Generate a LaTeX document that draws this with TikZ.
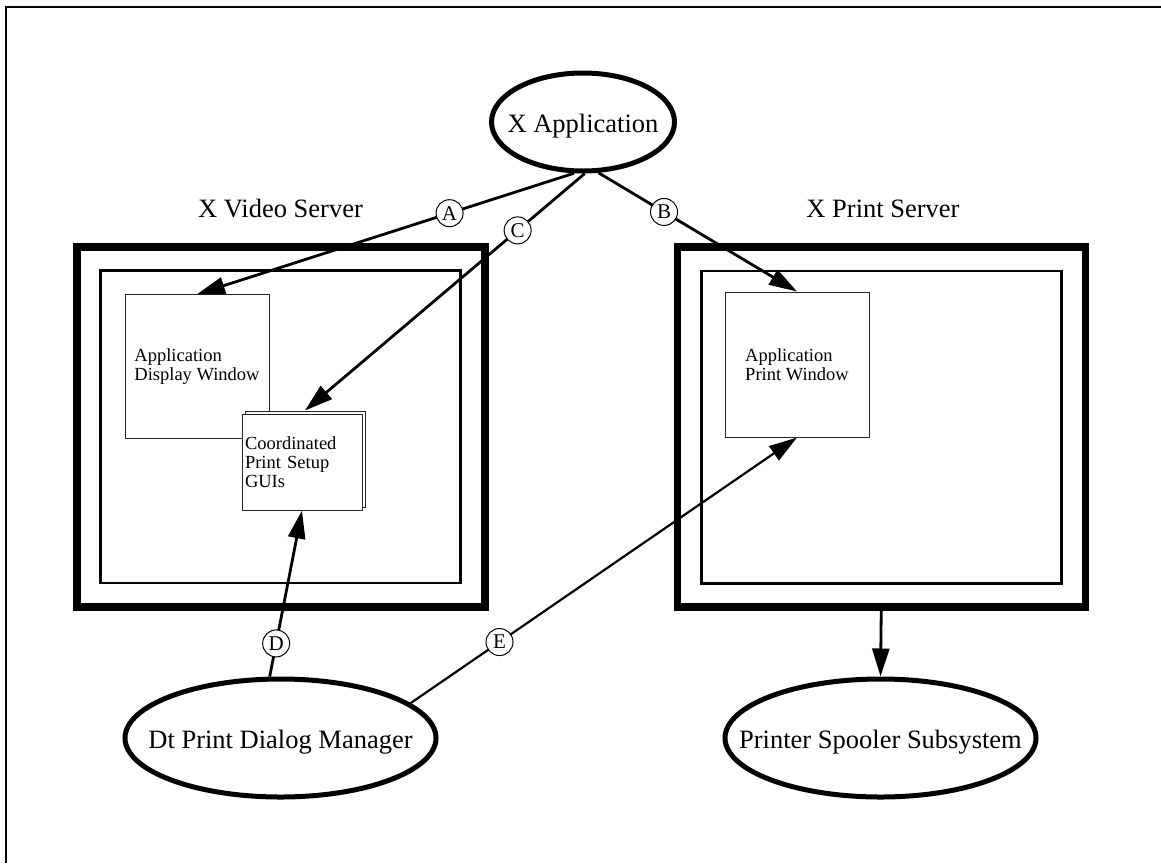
\documentclass[tikz,border=0pt]{standalone}
\usepackage{fontspec}
\setmainfont{Liberation Serif}
\usetikzlibrary{arrows.meta, shapes.geometric}

\tikzset{
  oval/.style = {ellipse, draw, line width=5pt, fill=white, inner sep=0pt},
  ovaltext/.style = {font=\fontsize{26.5}{30}\selectfont, yshift=-4pt},
  serverbox/.style = {rectangle, draw, line width=7.5pt, minimum width=408pt, minimum height=360pt},
  screenbox/.style = {rectangle, draw, line width=2.5pt, minimum width=360pt, minimum height=312.5pt},
  window/.style = {rectangle, draw=black!85, line width=1pt, fill=white, font=\fontsize{18.5}{18.5}\selectfont},
  tag/.style = {circle, draw, line width=1pt, fill=white, inner sep=0pt, minimum size=27pt, font=\fontsize{21}{22}\selectfont},
  flow/.style = {line width=2.8pt, -{Triangle[length=28pt,width=17pt]}},
  title/.style = {font=\fontsize{26.5}{30}\selectfont, anchor=base},
}

\begin{document}
\begin{tikzpicture}[x=1pt, y=-1pt]
\useasboundingbox (0,0) rectangle (1161,863);
% frame
\draw[line width=2.3pt] (5,7) -- (1161,7);
\draw[line width=1.5pt] (6,7) -- (6,863);

% servers
\node[serverbox] (video) at (281,427) {};
\node[screenbox] (videoscr) at (280.5,426.75) {};
\node[serverbox] (print) at (881.25,427) {};
\node[screenbox] (printscr) at (881.25,427) {};
\node[title] (videolbl) at (280.5,217.5) {X Video Server};
\node[title] (printlbl) at (883,217.5) {X Print Server};

% windows
\node[window, minimum width=144pt, minimum height=143.5pt, align=left] (dispwin) at (197,366.5) {Application\\Display Window};
\node[window, minimum width=144pt, minimum height=145pt, align=left] (printwin) at (797,364.5) {Application\\Print Window};
\node[window, minimum width=120pt, minimum height=96pt] (guiback) at (305,459) {};
\node[window, minimum width=120pt, minimum height=96pt, text width=114pt, align=left, inner xsep=3pt,
  font=\fontsize{18.5}{19}\selectfont] (gui) at (302,462) {Coordinated\\Print Setup\\GUIs};

% ovals
\node[oval, minimum width=183pt, minimum height=98pt,
  label={[ovaltext]center:X Application}] (xapp) at (583,122) {};
\node[oval, minimum width=311pt, minimum height=118pt,
  label={[ovaltext]center:Dt Print Dialog Manager}] (dtpdm) at (280.5,738) {};
\node[oval, minimum width=311pt, minimum height=118pt,
  label={[ovaltext]center:Printer Spooler Subsystem}] (spool) at (880.5,738) {};

% connectors
\draw[flow] (xapp.260) -- (dispwin.north) node[tag, pos=0.33] (tagA) {A};
\draw[flow] (xapp.272) -- (guiback.north) node[tag, pos=0.24] (tagC) {C};
\draw[flow] (xapp.287) -- (printwin.north) node[tag, pos=0.33] (tagB) {B};
\draw[flow] (dtpdm.100) -- (gui.south) node[tag, pos=0.2] (tagD) {D};
\draw[flow, line width=2.2pt] (dtpdm.15) -- (printwin.south) node[tag, pos=0.23] (tagE) {E};
\draw[flow] (print.south) -- (spool.north);
\end{tikzpicture}
\end{document}
